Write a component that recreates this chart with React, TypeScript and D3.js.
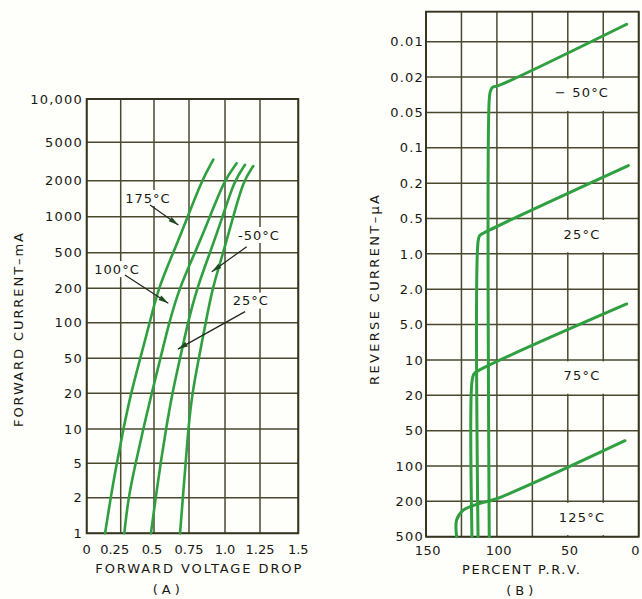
import React from 'react';
import * as d3 from 'd3';

// ---------- Chart (A) data ----------
const fwdCurrentTicks = [1, 2, 5, 10, 20, 50, 100, 200, 500, 1000, 2000, 5000, 10000];
const fwdCurrentLabels = ['1', '2', '5', '10', '20', '50', '100', '200', '500', '1000', '2000', '5000', '10,000'];
const fwdVoltageTicks = [0, 0.25, 0.5, 0.75, 1.0, 1.25, 1.5];
const fwdVoltageLabels = ['0', '0.25', '0.5', '0.75', '1.0', '1.25', '1.5'];

// [forward voltage (V), forward current (mA)]
const fwd175: [number, number][] = [[0.135, 1], [0.176, 2], [0.221, 5], [0.27, 10], [0.327, 20], [0.397, 50], [0.468, 100], [0.53, 200], [0.638, 500], [0.741, 1000], [0.838, 2000], [0.919, 3300]];
const fwd100: [number, number][] = [[0.277, 1], [0.307, 2], [0.362, 5], [0.419, 10], [0.483, 20], [0.546, 50], [0.608, 100], [0.68, 200], [0.792, 500], [0.896, 1000], [0.993, 2000], [1.083, 3030]];
const fwd25: [number, number][] = [[0.477, 1], [0.512, 2], [0.547, 5], [0.586, 10], [0.63, 20], [0.686, 50], [0.742, 100], [0.805, 200], [0.896, 500], [0.984, 1000], [1.066, 2000], [1.143, 2920]];
const fwdM50: [number, number][] = [[0.686, 1], [0.706, 2], [0.726, 5], [0.745, 10], [0.772, 20], [0.818, 50], [0.866, 100], [0.912, 200], [0.988, 500], [1.059, 1000], [1.131, 2000], [1.202, 2840]];

// annotations: label text, label position [V, mA], arrow from, arrow to
const fwdLabels = ['175°C', '-50°C', '100°C', '25°C'];
const fwdLabelPos: [number, number][] = [[0.455, 1434], [1.243, 703], [0.223, 328], [1.184, 156]];
const fwdArrowFrom: [number, number][] = [[0.47, 1253], [1.155, 561], [0.282, 282], [1.143, 125]];
const fwdArrowTo: [number, number][] = [[0.674, 853], [0.908, 306], [0.602, 148], [0.671, 59.8]];

// ---------- Chart (B) data ----------
const revCurrentTicks = [0.01, 0.02, 0.05, 0.1, 0.2, 0.5, 1.0, 2.0, 5.0, 10, 20, 50, 100, 200, 500];
const revCurrentLabels = ['0.01', '0.02', '0.05', '0.1', '0.2', '0.5', '1.0', '2.0', '5.0', '10', '20', '50', '100', '200', '500'];
const prvGridTicks = [150, 125, 100, 75, 50, 25, 0];
const prvLabelTicks = [150, 100, 50, 0];

// [percent PRV, reverse current (µA)]
const revM50: [number, number][] = [[105.4, 500], [105.4, 0.036], [104.6, 0.029], [103, 0.026], [99, 0.025], [8.5, 0.0071]];
const rev25: [number, number][] = [[113.3, 500], [113.3, 0.79], [112.2, 0.70], [109.6, 0.668], [7.3, 0.142]];
const rev75: [number, number][] = [[117.6, 500], [117.6, 15.4], [116.2, 13.2], [113.1, 12.35], [8.5, 2.93]];
const rev125: [number, number][] = [[128.4, 500], [128.4, 324], [123.7, 251], [111.9, 210], [101.3, 192], [9.7, 60.9]];
const revLabels = ['− 50°C', '25°C', '75°C', '125°C'];
// label sits in the band between these two tick values
const revLabelBands: [number, number][] = [[0.02, 0.05], [0.5, 1.0], [10, 20], [200, 500]];

// ---------- layout ----------
const W = 642, H = 599;
const yAPos = [533.3, 497.7, 463.3, 429, 393.3, 358.3, 322.7, 288.3, 252.7, 216.7, 180.7, 142.3, 99];
const xAPos = [86.7, 120.7, 154, 189, 225, 260, 298.3];
const bTop = 11.7, bBottom = 536.7, bLeft = 426, bRight = 638.7;
const bStep = (bBottom - 41.7) / 14;

const GREEN = '#2f9f40';
const GRID = '#4a4930';
const FRAME = '#35341f';
const INK = '#181812';
const BG = '#fefefb';
const FONT = '"DejaVu Sans", "Open Sans", sans-serif';

function arrowHead(x1: number, y1: number, x2: number, y2: number, len = 10, hw = 2.6) {
  const dx = x2 - x1, dy = y2 - y1, L = Math.hypot(dx, dy);
  const ux = dx / L, uy = dy / L;
  const bx = x2 - ux * len, by = y2 - uy * len;
  const px = -uy, py = ux;
  return `M${x2},${y2}L${bx + px * hw},${by + py * hw}L${bx - px * hw},${by - py * hw}Z`;
}

export default function App() {
  const xA = d3.scaleLinear().domain(fwdVoltageTicks).range(xAPos);
  const yA = d3.scaleLog().domain(fwdCurrentTicks).range(yAPos);
  const xB = d3.scaleLinear().domain([150, 0]).range([bLeft, bRight]);
  const yBDomain = [0.005, ...revCurrentTicks];
  const yB = d3.scaleLog().domain(yBDomain).range(yBDomain.map((_, i) => 41.7 + (i - 1) * bStep));

  const lineA = d3.line<[number, number]>().x(d => xA(d[0])).y(d => yA(d[1])).curve(d3.curveBasis);
  const lineB = d3.line<[number, number]>().x(d => xB(d[0])).y(d => yB(d[1])).curve(d3.curveCatmullRom.alpha(0.5));

  const aLeft = xA(0), aRight = xA(1.5), aTop = yA(10000), aBottom = yA(1);

  return (
    <svg width={W} height={H} style={{ position: 'absolute', left: 0, top: 0, background: BG }} fontFamily={FONT}>
      <rect x={0} y={0} width={W} height={H} fill={BG} />
      {/* ---------------- Chart A ---------------- */}
      <g>
        {fwdCurrentTicks.map(t => (
          <line key={'ah' + t} x1={aLeft} x2={aRight} y1={yA(t)} y2={yA(t)} stroke={GRID} strokeWidth={1.5} />
        ))}
        {fwdVoltageTicks.map(t => (
          <line key={'av' + t} x1={xA(t)} x2={xA(t)} y1={aTop} y2={aBottom} stroke={GRID} strokeWidth={1.5} />
        ))}
        <rect x={aLeft} y={aTop} width={aRight - aLeft} height={aBottom - aTop} fill="none" stroke={FRAME} strokeWidth={1.9} />
        {[fwd175, fwd100, fwd25, fwdM50].map((s, i) => (
          <path key={'ac' + i} d={lineA(s) || ''} fill="none" stroke={GREEN} strokeWidth={2.6} strokeLinecap="round" />
        ))}
        {fwdLabels.map((lab, i) => {
          const [v, c] = fwdLabelPos[i];
          const w = lab.length * 9 + 2;
          return (
            <g key={'al' + i}>
              <rect x={xA(v) - w / 2} y={yA(c) - 8} width={w} height={16} fill={BG} />
              <text x={xA(v)} y={yA(c)} dy="0.36em" textAnchor="middle" fontSize={13} letterSpacing={1} fill={INK}>{lab}</text>
            </g>
          );
        })}
        {fwdArrowFrom.map((f, i) => {
          const x1 = xA(f[0]), y1 = yA(f[1]);
          const x2 = xA(fwdArrowTo[i][0]), y2 = yA(fwdArrowTo[i][1]);
          return (
            <g key={'aa' + i}>
              <line x1={x1} y1={y1} x2={x2} y2={y2} stroke="#20241a" strokeWidth={1.2} />
              <path d={arrowHead(x1, y1, x2, y2)} fill="#1f4a22" />
            </g>
          );
        })}
        {fwdCurrentTicks.map((t, i) => (
          <text key={'at' + t} x={83} y={yA(t)} dy="0.36em" textAnchor="end" fontSize={13} letterSpacing={1.2} fill={INK}>{fwdCurrentLabels[i]}</text>
        ))}
        {fwdVoltageTicks.map((t, i) => (
          <text key={'ax' + t} x={xA(t) + (i === 1 ? -6 : i === 2 ? -2 : 0)} y={549.3} dy="0.36em" textAnchor="middle" fontSize={13} fill={INK}>{fwdVoltageLabels[i]}</text>
        ))}
        <text x={198.3} y={568.3} dy="0.36em" textAnchor="middle" fontSize={13} textLength={206} lengthAdjust="spacing" fill={INK}>FORWARD VOLTAGE DROP</text>
        <text x={168.3} y={589.5} dy="0.36em" textAnchor="middle" fontSize={13} letterSpacing={4} fill={INK}>(A)</text>
        <text transform="translate(18.5,330) rotate(-90)" dy="0.36em" textAnchor="middle" fontSize={13} textLength={194} lengthAdjust="spacing" fill={INK}>FORWARD CURRENT–mA</text>
      </g>

      {/* ---------------- Chart B ---------------- */}
      <g>
        {revCurrentTicks.map(t => (
          <line key={'bh' + t} x1={bLeft} x2={bRight} y1={yB(t)} y2={yB(t)} stroke={GRID} strokeWidth={1.5} />
        ))}
        {prvGridTicks.map(t => (
          <line key={'bv' + t} x1={xB(t)} x2={xB(t)} y1={bTop} y2={bBottom} stroke={GRID} strokeWidth={1.5} />
        ))}
        {revLabelBands.map((b, i) => (
          <rect key={'bb' + i} x={xB(70)} y={yB(b[0]) + 1.5} width={xB(1) - xB(70)} height={yB(b[1]) - yB(b[0]) - 3} fill={BG} />
        ))}
        <rect x={bLeft} y={bTop} width={bRight - bLeft} height={bBottom - bTop} fill="none" stroke={FRAME} strokeWidth={1.9} />
        {[revM50, rev25, rev75, rev125].map((s, i) => (
          <path key={'bc' + i} d={lineB(s) || ''} fill="none" stroke={GREEN} strokeWidth={3} strokeLinecap="round" />
        ))}
        {revLabels.map((lab, i) => {
          const b = revLabelBands[i];
          return (
            <text key={'bl' + i} x={xB(40)} y={(yB(b[0]) + yB(b[1])) / 2 - 2} dy="0.36em" textAnchor="middle" fontSize={13} letterSpacing={1.2} fill={INK}>{lab}</text>
          );
        })}
        {revCurrentTicks.map((t, i) => (
          <text key={'bt' + t} x={424} y={yB(t)} dy="0.36em" textAnchor="end" fontSize={13} letterSpacing={1.2} fill={INK}>{revCurrentLabels[i]}</text>
        ))}
        {prvLabelTicks.map(t => (
          <text key={'bx' + t} x={t === 0 ? xB(t) - 3 : xB(t) + 2} y={550} dy="0.36em" textAnchor="middle" fontSize={13} letterSpacing={0.5} fill={INK}>{String(t)}</text>
        ))}
        <text x={521} y={569.3} dy="0.36em" textAnchor="middle" fontSize={13} textLength={118} lengthAdjust="spacing" fill={INK}>PERCENT P.R.V.</text>
        <text x={521.7} y={590.5} dy="0.36em" textAnchor="middle" fontSize={13} letterSpacing={4} fill={INK}>(B)</text>
        <text transform="translate(374,290) rotate(-90)" dy="0.36em" textAnchor="middle" fontSize={13} textLength={190} lengthAdjust="spacing" fill={INK}>REVERSE CURRENT–μA</text>
      </g>
    </svg>
  );
}
